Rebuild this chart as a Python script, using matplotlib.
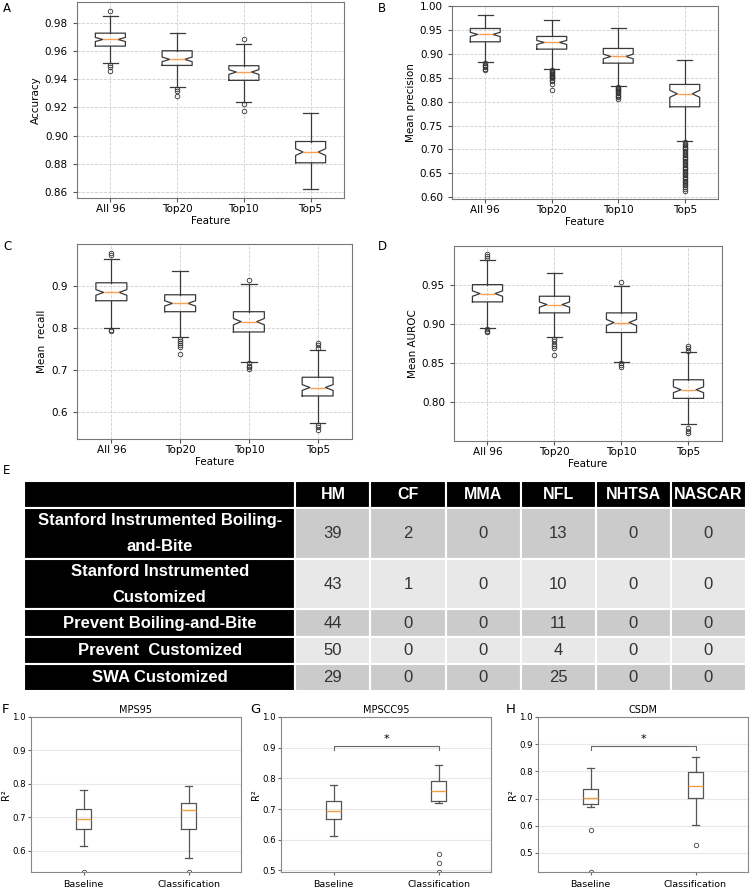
import matplotlib.pyplot as plt
import numpy as np

W, H = 750, 892

features = ['All 96', 'Top20', 'Top10', 'Top5']

# A: accuracy
acc_lo = [0.9515, 0.9345, 0.9236, 0.8623]
acc_q1 = [0.9635, 0.9498, 0.9392, 0.8807]
acc_med = [0.9682, 0.9541, 0.9451, 0.8883]
acc_q3 = [0.9727, 0.9602, 0.9496, 0.8958]
acc_hi = [0.9852, 0.9727, 0.9651, 0.9158]
acc_fliers = [[0.9883, 0.9498, 0.9486, 0.9456],
              [0.9328, 0.9317, 0.9281],
              [0.9682, 0.9222, 0.9175],
              []]

# B: mean precision
prec_lo = [0.8839, 0.8685, 0.8322, 0.7175]
prec_q1 = [0.9259, 0.9105, 0.8811, 0.7895]
prec_med = [0.9413, 0.9245, 0.8951, 0.8168]
prec_q3 = [0.9538, 0.9371, 0.9119, 0.8364]
prec_hi = [0.9818, 0.9713, 0.9538, 0.8874]
prec_fliers = [[0.881, 0.878, 0.875, 0.872, 0.869, 0.866],
               [0.867, 0.865, 0.863, 0.861, 0.859, 0.857, 0.855, 0.853, 0.851,
                0.849, 0.846, 0.843, 0.838, 0.825],
               [0.830, 0.828, 0.826, 0.824, 0.822, 0.820, 0.818, 0.815, 0.812,
                0.809, 0.806],
               [0.715, 0.712, 0.709, 0.706, 0.703, 0.700, 0.697, 0.694, 0.691,
                0.688, 0.685, 0.682, 0.679, 0.676, 0.673, 0.670, 0.667, 0.664,
                0.661, 0.658, 0.655, 0.652, 0.649, 0.646, 0.643, 0.640, 0.637,
                0.634, 0.631, 0.628, 0.625, 0.621, 0.617, 0.612]]

# C: mean recall
rec_lo = [0.8008, 0.7779, 0.7205, 0.5750]
rec_q1 = [0.8646, 0.8386, 0.7906, 0.6390]
rec_med = [0.8843, 0.8583, 0.8150, 0.6590]
rec_q3 = [0.9071, 0.8787, 0.8386, 0.6833]
rec_hi = [0.9646, 0.9354, 0.9047, 0.7484]
rec_fliers = [[0.9787, 0.9724, 0.7953, 0.7920],
              [0.7740, 0.7690, 0.7640, 0.7590, 0.7550, 0.7386],
              [0.9134, 0.7160, 0.7110, 0.7070, 0.7030],
              [0.7640, 0.7590, 0.7530, 0.5700, 0.5650, 0.5590]]

# D: mean AUROC
auc_lo = [0.8949, 0.8830, 0.8517, 0.7720]
auc_q1 = [0.9280, 0.9140, 0.8890, 0.8051]
auc_med = [0.9386, 0.9246, 0.9017, 0.8161]
auc_q3 = [0.9500, 0.9352, 0.9140, 0.8288]
auc_hi = [0.9814, 0.9653, 0.9487, 0.8636]
auc_fliers = [[0.9890, 0.9860, 0.9839, 0.8930, 0.8910, 0.8895],
              [0.8810, 0.8780, 0.8750, 0.8720, 0.8690, 0.8602],
              [0.9534, 0.8500, 0.8475, 0.8450],
              [0.8720, 0.8690, 0.8660, 0.7670, 0.7640, 0.7615]]

# E: table
headsets = ['Stanford Instrumented Boiling-\nand-Bite',
            'Stanford Instrumented\nCustomized',
            'Prevent Boiling-and-Bite',
            'Prevent  Customized',
            'SWA Customized']
sports = ['HM', 'CF', 'MMA', 'NFL', 'NHTSA', 'NASCAR']
counts = [[39, 2, 0, 13, 0, 0],
          [43, 1, 0, 10, 0, 0],
          [44, 0, 0, 11, 0, 0],
          [50, 0, 0, 4, 0, 0],
          [29, 0, 0, 25, 0, 0]]

# F-H: R2
methods = ['Baseline', 'Classification']
mps_lo, mps_q1, mps_med = [0.6149, 0.5790], [0.6657, 0.6657], [0.6955, 0.7214]
mps_q3, mps_hi = [0.7244, 0.7433], [0.7821, 0.7930]
mps_fliers = [[0.538], [0.538]]

mpscc_lo, mpscc_q1, mpscc_med = [0.6128, 0.7213], [0.6681, 0.7267], [0.6952, 0.7581]
mpscc_q3, mpscc_hi = [0.7267, 0.7907], [0.7777, 0.8449]
mpscc_fliers = [[], [0.5521, 0.5228, 0.4957]]

csdm_lo, csdm_q1, csdm_med = [0.6703, 0.6042], [0.6814, 0.7010], [0.7034, 0.7451]
csdm_q3, csdm_hi = [0.7341, 0.7966], [0.8113, 0.8517]
csdm_fliers = [[0.5833, 0.431], [0.5294]]


def box_stats(labels, lo, q1, med, q3, hi, fliers, n=100):
    stats = []
    for i in range(len(med)):
        half = 1.57 * (q3[i] - q1[i]) / np.sqrt(n)
        stats.append(dict(label=labels[i], whislo=lo[i], q1=q1[i], med=med[i],
                          q3=q3[i], whishi=hi[i], fliers=fliers[i],
                          cilo=med[i] - half, cihi=med[i] + half))
    return stats


fig = plt.figure(figsize=(W / 100, H / 100), dpi=100)


def axes_px(left, top, right, bottom):
    return fig.add_axes([left / W, 1 - bottom / H, (right - left) / W, (bottom - top) / H])


def letter(x, y, s, size=8.5):
    fig.text(x / W, 1 - y / H, s, ha='left', va='top', fontsize=size)


def feature_panel(ax, stats, ylabel, ylim, yticks, fmt):
    line = dict(color='#3a3a3a', linewidth=0.9)
    ax.bxp(stats, positions=[1, 2, 3, 4], widths=0.45, shownotches=True,
           boxprops=line, whiskerprops=line, capprops=line,
           medianprops=dict(color='#ffa050', linewidth=1.0),
           flierprops=dict(marker='o', markersize=3.3, markerfacecolor='none',
                           markeredgecolor='#333333', markeredgewidth=0.6))
    ax.set_xlim(0.5, 4.5)
    ax.set_ylim(ylim)
    ax.set_yticks(yticks)
    ax.set_yticklabels([fmt.format(t) for t in yticks])
    ax.grid(True, linestyle='--', linewidth=0.6, color='#cfcfcf')
    ax.set_axisbelow(True)
    ax.tick_params(labelsize=7.5, length=3, color='#555555')
    ax.tick_params(axis='x', pad=1.5)
    ax.set_xlabel('Feature', fontsize=7.5, labelpad=1)
    ax.set_ylabel(ylabel, fontsize=7.5, labelpad=3)
    for s in ax.spines.values():
        s.set_color('#777777')
        s.set_linewidth(0.8)


axA = axes_px(77, 2.3, 344, 198)
feature_panel(axA, box_stats(features, acc_lo, acc_q1, acc_med, acc_q3, acc_hi, acc_fliers),
              'Accuracy', (0.8557, 0.9946), [0.86, 0.88, 0.90, 0.92, 0.94, 0.96, 0.98], '{:.2f}')
axB = axes_px(452, 6, 718, 199)
feature_panel(axB, box_stats(features, prec_lo, prec_q1, prec_med, prec_q3, prec_hi, prec_fliers),
              'Mean precision', (0.596, 1.001),
              [0.60, 0.65, 0.70, 0.75, 0.80, 0.85, 0.90, 0.95, 1.00], '{:.2f}')
axC = axes_px(77, 244, 352, 439)
feature_panel(axC, box_stats(features, rec_lo, rec_q1, rec_med, rec_q3, rec_hi, rec_fliers),
              'Mean  recall', (0.537, 0.999), [0.6, 0.7, 0.8, 0.9], '{:.1f}')
axD = axes_px(454, 246, 722, 441)
feature_panel(axD, box_stats(features, auc_lo, auc_q1, auc_med, auc_q3, auc_hi, auc_fliers),
              'Mean AUROC', (0.7508, 0.9992), [0.80, 0.85, 0.90, 0.95], '{:.2f}')

letter(3, 2, 'A')
letter(378, 2, 'B')
letter(3, 240, 'C')
letter(378, 240, 'D')
letter(3, 464, 'E')

# table
tax = axes_px(24, 481, 746, 691)
tax.axis('off')
cell_text = [[''] + sports] + [[name] + [str(v) for v in row]
                                for name, row in zip(headsets, counts)]
tbl = tax.table(cellText=cell_text, cellLoc='center', bbox=[0, 0, 1, 1])
tbl.auto_set_font_size(False)
col_w = [271] + [75] * 6
row_h = [26.7, 51, 50.6, 27.4, 26.6, 27.4]
font = ['Liberation Sans Narrow', 'Liberation Sans']
for (r, c), cell in tbl.get_celld().items():
    cell.set_width(col_w[c])
    cell.set_height(row_h[r])
    cell.set_edgecolor('white')
    cell.set_linewidth(1.5)
    txt = cell.get_text()
    if r == 0 or c == 0:
        cell.set_facecolor('black')
        txt.set_color('white')
        txt.set_fontweight('bold')
        txt.set_fontsize(11.5 if r == 0 else 12)
    else:
        cell.set_facecolor('#cbcbcb' if r % 2 == 1 else '#e8e8e8')
        txt.set_color('#333333')
        txt.set_fontsize(12)
    txt.set_family(font)
    txt.set_linespacing(1.9)


# F-H
def r2_panel(ax, stats, title, ylim, yticks, bracket=None):
    line = dict(color='#555555', linewidth=0.9)
    ax.bxp(stats, positions=[1, 2], widths=0.15,
           boxprops=line, whiskerprops=line, capprops=line,
           medianprops=dict(color='#f0a040', linewidth=1.0),
           flierprops=dict(marker='o', markersize=3.2, markerfacecolor='none',
                           markeredgecolor='#444444', markeredgewidth=0.6))
    ax.set_xlim(0.5, 2.5)
    ax.set_ylim(ylim)
    ax.set_yticks(yticks)
    ax.set_yticklabels(['{:.1f}'.format(t) for t in yticks])
    ax.yaxis.grid(True, color='#e8e8e8', linewidth=0.8)
    ax.set_axisbelow(True)
    ax.tick_params(axis='y', labelsize=6.2, length=2, pad=1.5, color='#666666')
    ax.tick_params(axis='x', labelsize=6.8, length=2, pad=3.5, color='#666666')
    ax.set_title(title, fontsize=7, pad=3)
    ax.set_ylabel('R²', fontsize=7, labelpad=1)
    for s in ax.spines.values():
        s.set_color('#888888')
        s.set_linewidth(0.8)
    if bracket is not None:
        y, drop, star_y = bracket
        ax.plot([1, 1, 2, 2], [y - drop, y, y, y - drop], color='#666666', linewidth=0.8)
        ax.text(1.5, star_y, '*', ha='center', va='center', fontsize=8)


axF = axes_px(31, 717, 241, 872)
r2_panel(axF, box_stats(methods, mps_lo, mps_q1, mps_med, mps_q3, mps_hi, mps_fliers),
         'MPS95', (0.537, 1.0), [0.6, 0.7, 0.8, 0.9, 1.0])
axG = axes_px(281, 717, 491, 872)
r2_panel(axG, box_stats(methods, mpscc_lo, mpscc_q1, mpscc_med, mpscc_q3, mpscc_hi, mpscc_fliers),
         'MPSCC95', (0.495, 1.0), [0.5, 0.6, 0.7, 0.8, 0.9, 1.0], bracket=(0.905, 0.011, 0.928))
axH = axes_px(538, 717, 748, 872)
r2_panel(axH, box_stats(methods, csdm_lo, csdm_q1, csdm_med, csdm_q3, csdm_hi, csdm_fliers),
         'CSDM', (0.43, 1.0), [0.5, 0.6, 0.7, 0.8, 0.9, 1.0], bracket=(0.892, 0.012, 0.919))

letter(2, 703, 'F', 9.5)
letter(250, 703, 'G', 9.5)
letter(506, 703, 'H', 9.5)

fig.savefig('out.png', dpi=100)
